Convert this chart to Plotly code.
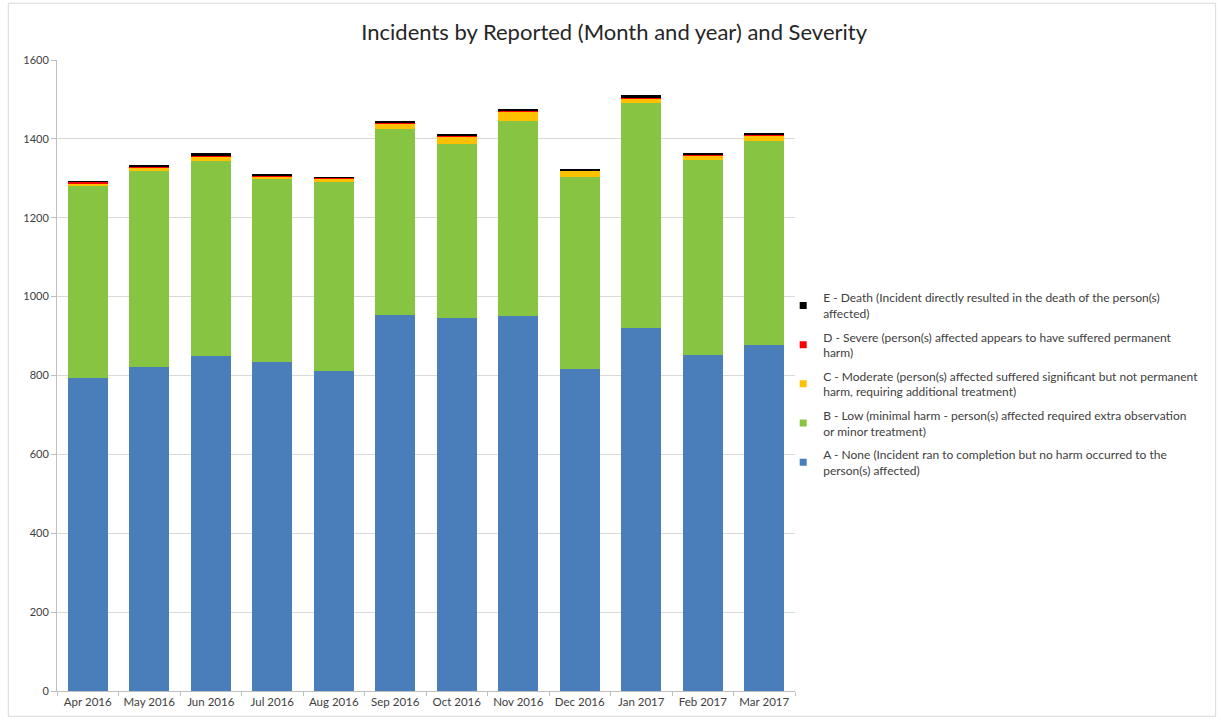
import plotly.graph_objects as go

months = ["Apr 2016", "May 2016", "Jun 2016", "Jul 2016", "Aug 2016", "Sep 2016",
          "Oct 2016", "Nov 2016", "Dec 2016", "Jan 2017", "Feb 2017", "Mar 2017"]

sev_a_none = [793, 821, 850, 834, 812, 954, 947, 952, 817, 920, 852, 878]
sev_b_low = [487, 497, 495, 464, 479, 470, 439, 494, 487, 572, 495, 516]
sev_c_moderate = [8, 10, 10, 7, 8, 14, 20, 24, 15, 11, 12, 14]
sev_d_severe = [3, 3, 2, 3, 3, 4, 2, 2, 2, 1, 1, 2]
sev_e_death = [1, 2, 6, 1, 1, 2, 2, 3, 2, 6, 2, 6]

series = [
    ("A - None (Incident ran to completion but no harm occurred to the<br>person(s) affected)",
     sev_a_none, "#4A7EBB"),
    ("B - Low (minimal harm - person(s) affected required extra observation<br>or minor treatment)",
     sev_b_low, "#86C441"),
    ("C - Moderate (person(s) affected suffered significant but not permanent<br>harm, requiring additional treatment)",
     sev_c_moderate, "#FFC000"),
    ("D - Severe (person(s) affected appears to have suffered permanent<br>harm)",
     sev_d_severe, "#FF0000"),
    ("E - Death (Incident directly resulted in the death of the person(s)<br>affected)",
     sev_e_death, "#000000"),
]

fig = go.Figure()

# small square legend keys, most severe first
for i in reversed(range(len(series))):
    name, vals, color = series[i]
    fig.add_trace(go.Scatter(x=[None], y=[None], mode="markers", name=name,
                             legendgroup="s%d" % i, showlegend=True,
                             marker=dict(symbol="square", size=7, color=color)))

# stacked bars, least severe at the bottom
for i, (name, vals, color) in enumerate(series):
    fig.add_trace(go.Bar(x=months, y=vals, name=name, legendgroup="s%d" % i,
                         showlegend=False,
                         marker=dict(color=color, line=dict(width=0))))

font_family = "Lato, 'Open Sans', sans-serif"

fig.update_layout(
    barmode="stack",
    bargap=0.35,
    width=1221,
    height=720,
    margin=dict(l=57, r=426, t=60, b=29),
    paper_bgcolor="white",
    plot_bgcolor="white",
    font=dict(family=font_family, size=11, color="#404040"),
    title=dict(text="Incidents by Reported (Month and year) and Severity",
               x=0.503, xanchor="center", xref="container", y=0.955, yanchor="middle",
               font=dict(family=font_family, size=22, color="#262626")),
    legend=dict(traceorder="grouped", x=0.984, xanchor="left", y=0.646, yanchor="top",
                font=dict(family=font_family, size=12, color="#404040"),
                itemwidth=30, tracegroupgap=5, bgcolor="rgba(0,0,0,0)"),
    showlegend=True,
)

fig.update_yaxes(range=[0, 1600], dtick=200, showgrid=True, gridcolor="#D9D9D9",
                 gridwidth=1, showline=True, linecolor="#BFBFBF", ticks="outside",
                 ticklen=5, tickcolor="#BFBFBF", zeroline=False,
                 tickfont=dict(size=11, color="#404040"))
fig.update_xaxes(type="category", categoryorder="array", categoryarray=months,
                 range=[-0.5, len(months) - 0.5],
                 showline=True, linecolor="#BFBFBF", ticks="outside", tickson="boundaries",
                 ticklen=4, tickcolor="#BFBFBF", showgrid=False, tickangle=0,
                 automargin=False, tickfont=dict(size=11.5, color="#404040"))

# outer chart frame
fig.add_shape(type="rect", xref="paper", yref="paper",
              x0=-0.066, x1=1.57, y0=-0.04, y1=1.09,
              line=dict(color="#D9D9D9", width=1), fillcolor="rgba(0,0,0,0)", layer="below")

fig.write_html("out.html")
